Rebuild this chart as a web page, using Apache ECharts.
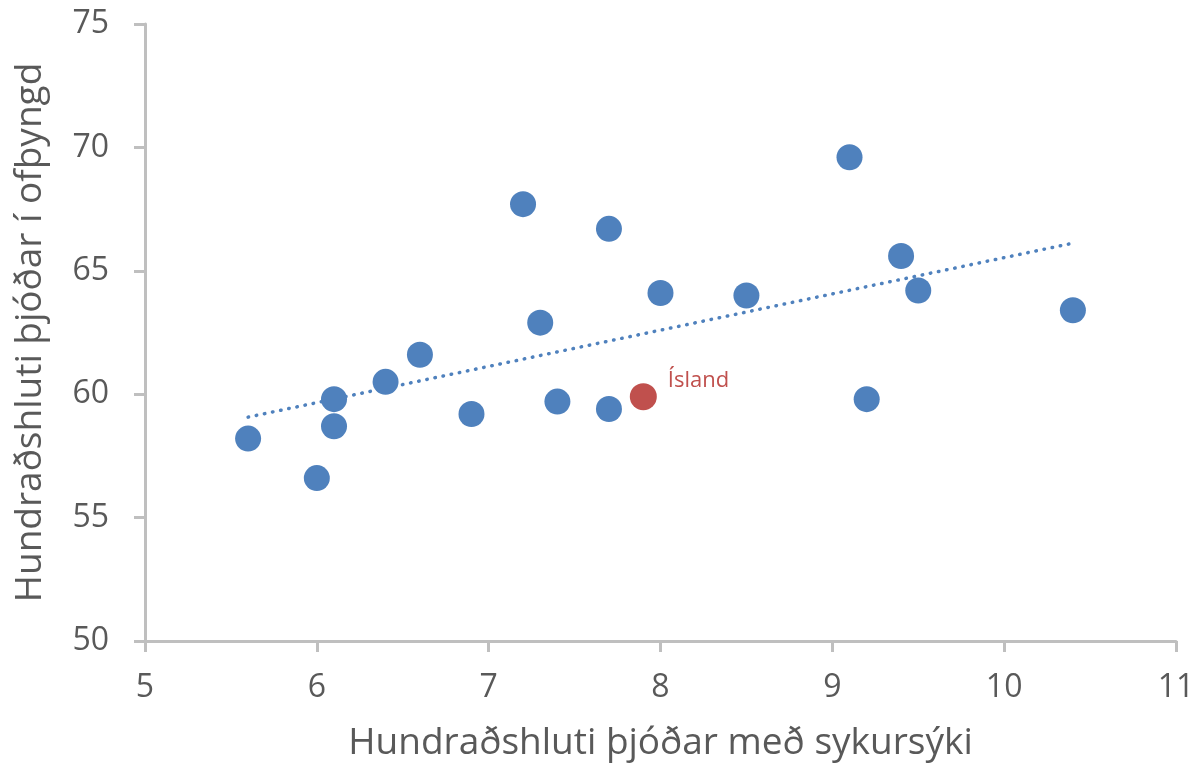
<!DOCTYPE html>
<html>
<head>
<meta charset="utf-8">
<script src="https://cdn.jsdelivr.net/npm/echarts@6/dist/echarts.min.js"></script>
<style>
  html, body { margin: 0; padding: 0; background: #fff; }
  #chart { width: 1199px; height: 767px; }
</style>
</head>
<body>
<div id="chart"></div>
<script>
// Data
const diabetesPct = [5.6, 6.0, 6.1, 6.1, 6.4, 6.6, 6.9, 7.2, 7.3, 7.4, 7.7, 7.7, 8.0, 8.5, 9.1, 9.2, 9.4, 9.5, 10.4];
const obesityPct  = [58.2, 56.6, 59.8, 58.7, 60.5, 61.6, 59.2, 67.7, 62.9, 59.7, 66.7, 59.4, 64.1, 64.0, 69.6, 59.8, 65.6, 64.2, 63.4];
const icelandX = [7.9];
const icelandY = [59.9];
const icelandName = 'Ísland';
const trendX = [5.6, 10.4];
const trendY = [59.07, 66.12];
const xTicks = [5, 6, 7, 8, 9, 10, 11];
const yTicks = [50, 55, 60, 65, 70, 75];
const xTitle = 'Hundraðshluti þjóðar með sykursýki';
const yTitle = 'Hundraðshluti þjóðar í ofþyngd';

const FONT = "'Open Sans', sans-serif";
const TEXT = '#595959';
const AXIS = '#bfbfbf';

const chart = echarts.init(document.getElementById('chart'), null, { renderer: 'canvas' });
chart.setOption({
  animation: false,
  backgroundColor: '#ffffff',
  grid: { left: 145, right: 23, top: 24, bottom: 125, containLabel: false },
  xAxis: {
    type: 'value',
    min: xTicks[0], max: xTicks[xTicks.length - 1], interval: 1,
    name: xTitle, nameLocation: 'middle', nameGap: 84,
    nameTextStyle: { fontFamily: FONT, fontSize: 37, color: TEXT },
    axisLine: { show: true, lineStyle: { color: AXIS, width: 3 } },
    axisTick: { show: true, inside: false, length: 11, lineStyle: { color: AXIS, width: 3 } },
    axisLabel: { fontFamily: FONT, fontSize: 32, color: TEXT, margin: 31 },
    splitLine: { show: false }
  },
  yAxis: {
    type: 'value',
    min: yTicks[0], max: yTicks[yTicks.length - 1], interval: 5,
    name: yTitle, nameLocation: 'middle', nameGap: 96, nameRotate: 90,
    nameTextStyle: { fontFamily: FONT, fontSize: 37, color: TEXT },
    axisLine: { show: true, lineStyle: { color: AXIS, width: 3 } },
    axisTick: { show: true, inside: false, length: 11, lineStyle: { color: AXIS, width: 3 } },
    axisLabel: { fontFamily: FONT, fontSize: 32, color: TEXT, margin: 36 },
    splitLine: { show: false }
  },
  series: [
    {
      type: 'line',
      data: trendX.map((x, i) => [x, trendY[i]]),
      showSymbol: false, symbol: 'none',
      lineStyle: { color: '#4f81bd', width: 3.5, type: [0.5, 7.8], cap: 'round' },
      z: 1
    },
    {
      type: 'scatter',
      data: diabetesPct.map((x, i) => [x, obesityPct[i]]),
      symbolSize: 26,
      itemStyle: { color: '#4f81bd', opacity: 1 },
      z: 2
    },
    {
      type: 'scatter',
      data: icelandX.map((x, i) => ({ value: [x, icelandY[i]], name: icelandName })),
      symbolSize: 27,
      itemStyle: { color: '#c0504d', opacity: 1 },
      label: {
        show: true, formatter: '{b}', position: 'right',
        offset: [6, -16],
        fontFamily: FONT, fontSize: 22, color: '#c0504d'
      },
      z: 3
    }
  ]
});
</script>
</body>
</html>
